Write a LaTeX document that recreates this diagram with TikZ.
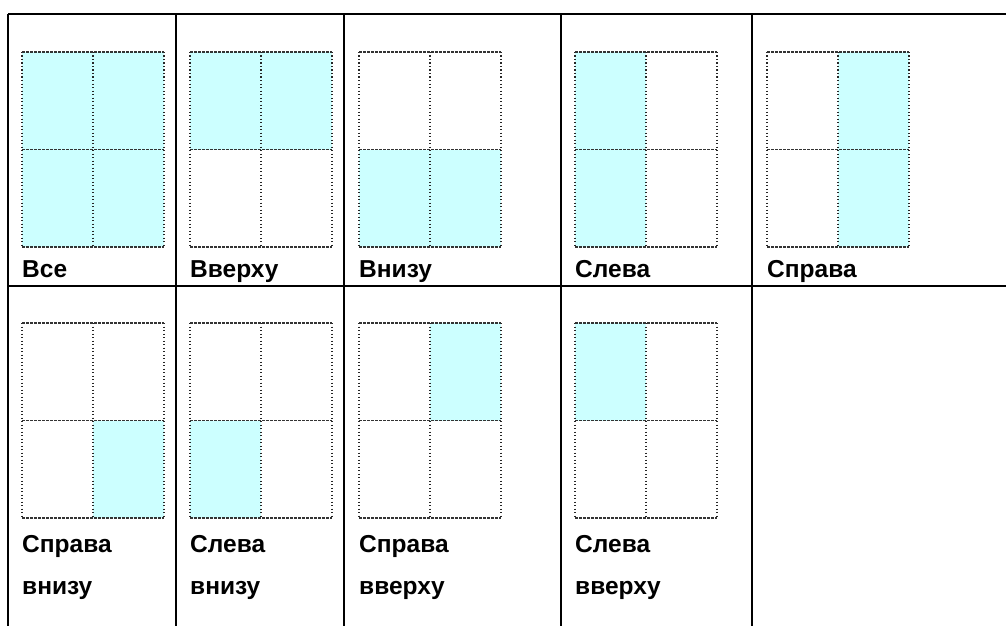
\documentclass[tikz,border=0pt]{standalone}
\usepackage{fontspec}
\setmainfont{Liberation Sans}
\usetikzlibrary{positioning}
\definecolor{zonefill}{HTML}{CCFFFF}

\begin{document}
\begin{tikzpicture}[x=1pt, y=-1pt,
  rule/.style={line width=1.8pt, black},
  hdash/.style={line width=1.2pt, dash pattern=on 3pt off 1pt, black!80},
  vdot/.style={line width=1.3pt, dash pattern=on 1.3pt off 2.2pt, black!85},
  zone/.style={fill=zonefill, draw=none},
  lbl/.style={anchor=base west, inner sep=0pt, align=left, font=\fontsize{24.5}{42}\selectfont\bfseries}
]
  \useasboundingbox (0,0) rectangle (1006,626);

  % table rules
  \coordinate (tl) at (8,14);
  \coordinate (tr) at (1006,14);
  \coordinate (ml) at (8,286);
  \coordinate (mr) at (1006,286);
  \draw[rule] (tl) -- (tr);
  \draw[rule] (ml) -- (mr);
  \foreach \cx [count=\i] in {8,176,344,561,752} {
    \coordinate (c\i t) at (\cx,14);
    \coordinate (c\i b) at (\cx,626);
    \draw[rule] (c\i t) -- (c\i b);
  }

  % page grids (top left corners)
  \coordinate (all) at (22,52);
  \coordinate (top) at (190,52);
  \coordinate (bottom) at (359,52);
  \coordinate (left) at (575,52);
  \coordinate (right) at (767,52);
  \coordinate (botright) at (22,323);
  \coordinate (botleft) at (190,323);
  \coordinate (topright) at (359,323);
  \coordinate (topleft) at (575,323);

  % shaded quarters
  \fill[zone] (all) rectangle ++(142,195);
  \fill[zone] (top) rectangle ++(142,97.5);
  \fill[zone] ([shift={(0,97.5)}]bottom) rectangle ++(142,97.5);
  \fill[zone] (left) rectangle ++(71,195);
  \fill[zone] ([shift={(71,0)}]right) rectangle ++(71,195);
  \fill[zone] ([shift={(71,97.5)}]botright) rectangle ++(71,97.5);
  \fill[zone] ([shift={(0,97.5)}]botleft) rectangle ++(71,97.5);
  \fill[zone] ([shift={(71,0)}]topright) rectangle ++(71,97.5);
  \fill[zone] (topleft) rectangle ++(71,97.5);

  \foreach \g in {all,top,bottom,left,right,botright,botleft,topright,topleft} {
    \foreach \dx in {0,71,142}
      \draw[vdot] ([shift={(\dx,0)}]\g) -- ++(0,195);
    \foreach \dy in {0,97.5,195}
      \draw[hdash] ([shift={(0,\dy)}]\g) -- ++(142,0);
  }

  % captions (two-line ones sit on their last baseline)
  \node[lbl] (l-all) at (22,277) {Все};
  \node[lbl] (l-top) at (190,277) {Вверху};
  \node[lbl] (l-bottom) at (359,277) {Внизу};
  \node[lbl] (l-left) at (575,277) {Слева};
  \node[lbl] (l-right) at (767,277) {Справа};
  \node[lbl] (l-botright) at (22,594) {Справа\\внизу};
  \node[lbl] (l-botleft) at (190,594) {Слева\\внизу};
  \node[lbl] (l-topright) at (359,594) {Справа\\вверху};
  \node[lbl] (l-topleft) at (575,594) {Слева\\вверху};
\end{tikzpicture}
\end{document}
